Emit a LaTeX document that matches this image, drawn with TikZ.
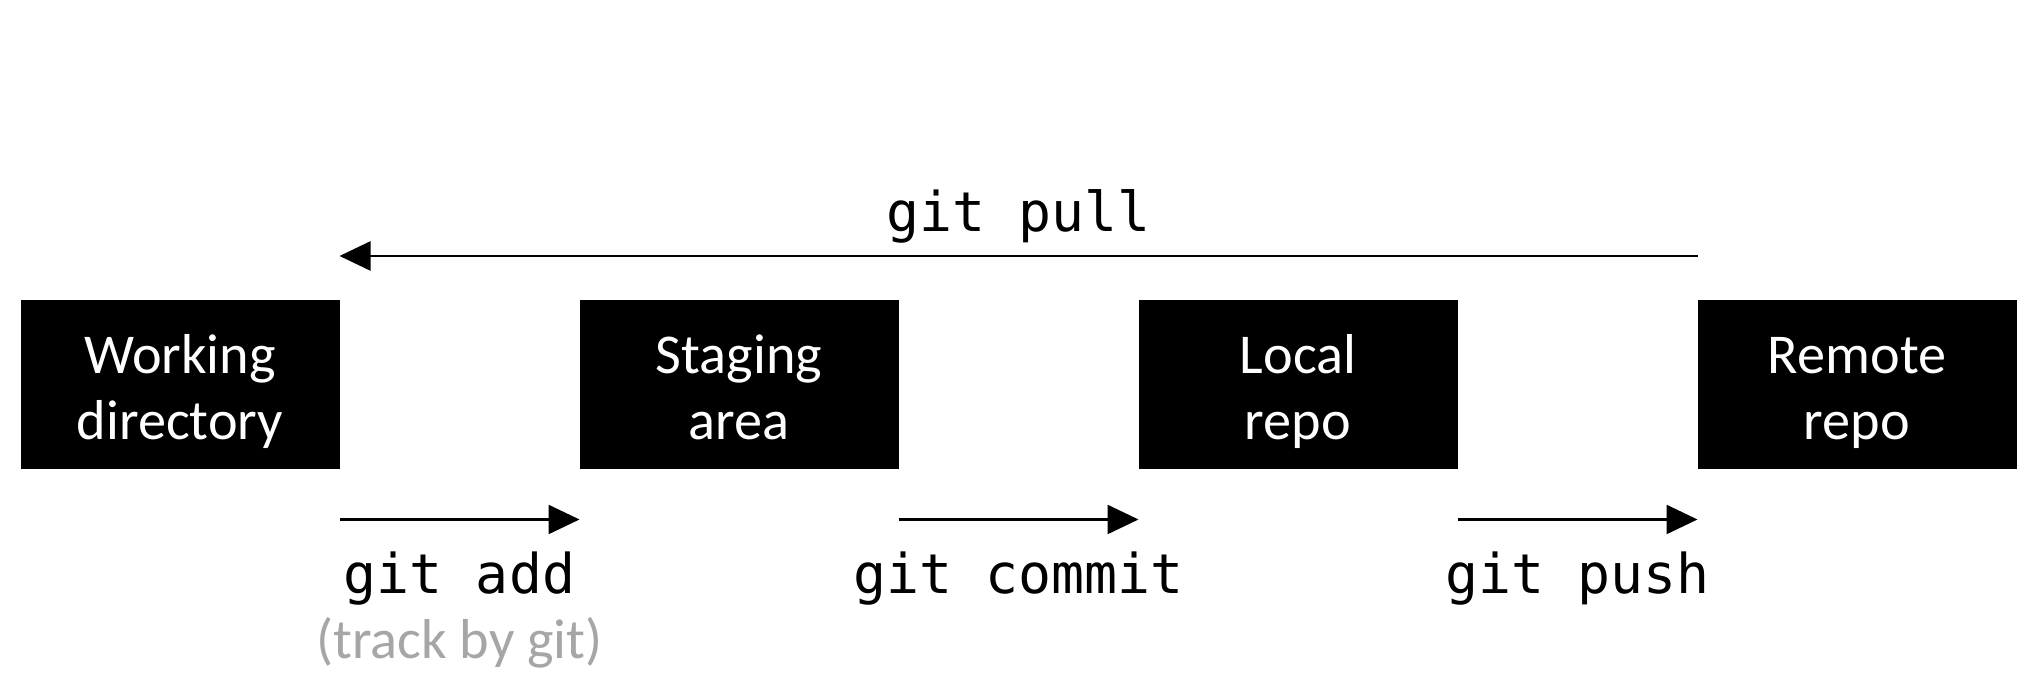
\documentclass[tikz,border=0pt]{standalone}
\usepackage{fontspec}
\setmainfont{Carlito}
\setmonofont{DejaVu Sans Mono}
\usetikzlibrary{positioning, arrows.meta}
\definecolor{trackgray}{RGB}{166,166,166}

% two lines of box text, with struts so every box sets its lines alike
\newcommand{\arealines}[2]{\rule{0pt}{17.5pt}#1\\#2\rule[-5pt]{0pt}{5pt}}

\begin{document}
\begin{tikzpicture}[
    area/.style={rectangle, fill=black, text=white, align=center, minimum width=3.19cm, minimum height=1.69cm, inner sep=0pt, outer sep=0pt, font=\fontsize{16}{18.8}\selectfont},
    cmd/.style={anchor=base, font=\fontsize{15.6}{18}\selectfont\ttfamily},
    flow/.style={-{Triangle[length=0.31cm, width=0.29cm]}, line width=0.7pt}
]
    \useasboundingbox (0,0) rectangle (20.4,-6.91);

    %-----Areas-----
    % Working directory
    \node [area] (work) at (1.8,-3.85) {\arealines{Working}{directory}};

    % Staging area
    \node [area, right=2.4cm of work] (stage) {\arealines{Staging}{area}};

    % Local repo
    \node [area, right=2.4cm of stage] (local) {\arealines{Local}{repo}};

    % Remote repo
    \node [area, right=2.4cm of local] (remote) {\arealines{Remote}{repo}};

    %-----Commands-----
    % pull goes back over the top
    \draw[flow] ([yshift=0.445cm]remote.north west) -- ([yshift=0.445cm]work.north east) node[cmd, midway, yshift=0.244cm] (pull) {git pull};

    % add, commit, push along the bottom
    \draw[flow] ([yshift=-0.5cm]work.south east) -- ([yshift=-0.5cm]stage.south west) node[cmd, midway, yshift=-0.74cm] (add) {git add};
    \draw[flow] ([yshift=-0.5cm]stage.south east) -- ([yshift=-0.5cm]local.south west) node[cmd, midway, yshift=-0.74cm] (commit) {git commit};
    \draw[flow] ([yshift=-0.5cm]local.south east) -- ([yshift=-0.5cm]remote.south west) node[cmd, midway, yshift=-0.74cm] (push) {git push};

    % note under git add
    \node[anchor=base, text=trackgray, font=\fontsize{16}{19.4}\selectfont] (track) at ([yshift=-0.65cm]add.base) {(track by git)};

\end{tikzpicture}
\end{document}
